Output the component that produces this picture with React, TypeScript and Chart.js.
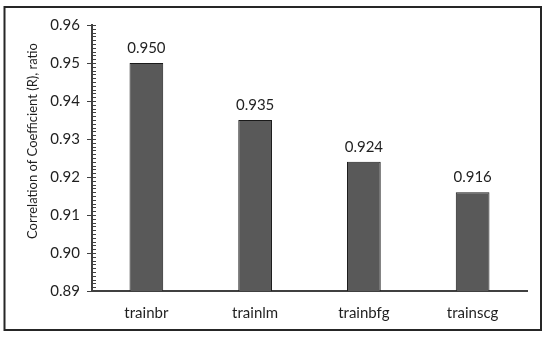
import React, { useEffect, useRef } from "react";
import { Chart, registerables } from "chart.js";

Chart.register(...registerables);

const categories = ["trainbr", "trainlm", "trainbfg", "trainscg"];
const values = [0.95, 0.935, 0.924, 0.916];
const valueLabels = ["0.950", "0.935", "0.924", "0.916"];
const yMin = 0.89;
const yMax = 0.96;
const yStep = 0.01;
const yMinorStep = 0.001;
const yTitle = "Correlation of Coefficient (R), ratio";

const FONT = "Lato, 'Open Sans', sans-serif";
const TEXT = "#1f1f1f";
const AXIS = "#404040";

const decorPlugin = {
  id: "decor",
  beforeDraw(chart: any) {
    const ctx = chart.ctx;
    ctx.save();
    ctx.fillStyle = "#ffffff";
    ctx.fillRect(0, 0, chart.width, chart.height);
    ctx.restore();
  },
  afterDraw(chart: any) {
    const ctx = chart.ctx;
    const y = chart.scales.y;
    const x0 = chart.chartArea.left;
    ctx.save();
    // frame
    ctx.strokeStyle = "#262626";
    ctx.lineWidth = 2;
    ctx.strokeRect(4.5, 7, 536.5, 323);
    // ticks
    ctx.strokeStyle = AXIS;
    ctx.lineWidth = 1;
    const n = Math.round((yMax - yMin) / yMinorStep);
    const per = Math.round(yStep / yMinorStep);
    for (let i = 0; i <= n; i++) {
      const py = Math.round(y.getPixelForValue(yMin + i * yMinorStep)) + 0.5;
      ctx.beginPath();
      if (i % per === 0) {
        ctx.moveTo(x0 - 5, py);
        ctx.lineTo(x0 + 4, py);
      } else {
        ctx.moveTo(x0, py);
        ctx.lineTo(x0 + 4, py);
      }
      ctx.stroke();
    }
    // value labels
    ctx.fillStyle = TEXT;
    ctx.font = "15px " + FONT;
    ctx.textAlign = "center";
    ctx.textBaseline = "middle";
    const meta = chart.getDatasetMeta(0);
    meta.data.forEach((bar: any, i: number) => {
      ctx.fillText(valueLabels[i], bar.x, bar.y - 15);
    });
    // y title
    ctx.font = "13px " + FONT;
    ctx.translate(33, 141);
    ctx.rotate(-Math.PI / 2);
    ctx.fillText(yTitle, 0, 0);
    ctx.restore();
  },
};

export default function App() {
  const ref = useRef<HTMLCanvasElement>(null);
  useEffect(() => {
    if (!ref.current) return;
    const chart = new Chart(ref.current, {
      type: "bar",
      data: {
        labels: categories,
        datasets: [
          {
            data: values,
            backgroundColor: "#595959",
            borderColor: "#1a1a1a",
            borderWidth: 1,
            barPercentage: 0.31,
            categoryPercentage: 1,
          },
        ],
      },
      options: {
        responsive: false,
        animation: false,
        devicePixelRatio: 1,
        layout: { padding: { left: 0, top: 25, right: 23, bottom: 0 } },
        plugins: {
          legend: { display: false },
          tooltip: { enabled: false },
          title: { display: false },
        },
        scales: {
          x: {
            grid: { display: false, drawTicks: false, tickLength: 0 },
            border: { display: true, color: AXIS, width: 2 },
            ticks: { color: TEXT, font: { family: FONT, size: 15 }, padding: 13 },
            afterFit: (s: any) => {
              s.height = 47;
            },
          },
          y: {
            min: yMin,
            max: yMax,
            grid: { display: false, drawTicks: false, tickLength: 0 },
            border: { display: true, color: AXIS, width: 2 },
            ticks: {
              stepSize: yStep,
              color: TEXT,
              font: { family: FONT, size: 15 },
              padding: 12,
              callback: (v: any) => Number(v).toFixed(2),
            },
            afterFit: (s: any) => {
              s.width = 92;
            },
          },
        },
      },
      plugins: [decorPlugin],
    });
    return () => chart.destroy();
  }, []);
  return (
    <div style={{ position: "fixed", left: 0, top: 0, width: 550, height: 338, background: "#fff" }}>
      <canvas ref={ref} width={550} height={338} style={{ display: "block" }} />
    </div>
  );
}
